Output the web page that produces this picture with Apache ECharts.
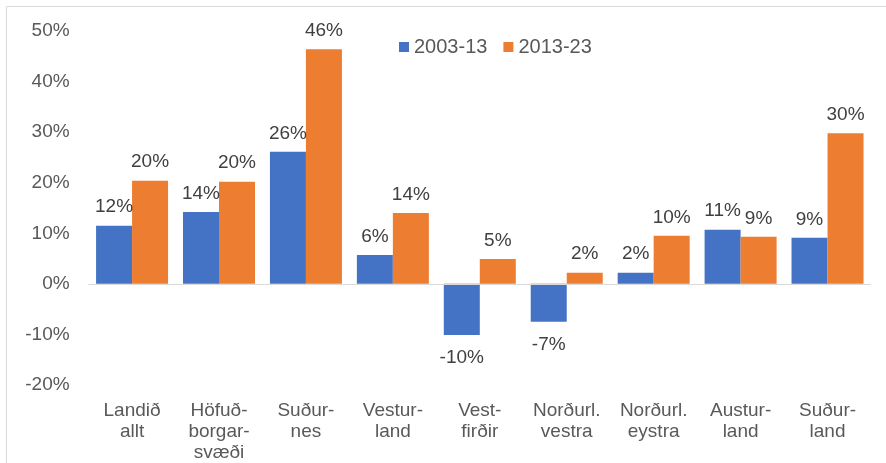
<!DOCTYPE html>
<html>
<head>
<meta charset="utf-8">
<script src="https://cdn.jsdelivr.net/npm/echarts@6/dist/echarts.min.js"></script>
<style>
  html, body { margin: 0; padding: 0; background: #fff; }
  #chart { width: 886px; height: 463px; }
</style>
</head>
<body>
<div id="chart"></div>
<script>
// gögn lesin af myndinni
const regions = [
  "Landið\nallt", "Höfuð-\nborgar-\nsvæði", "Suður-\nnes", "Vestur-\nland",
  "Vest-\nfirðir", "Norðurl.\nvestra", "Norðurl.\neystra", "Austur-\nland", "Suður-\nland"
];
const period1 = [11.5, 14.2, 26.1, 5.7, -10.1, -7.5, 2.2, 10.7, 9.1];
const period2 = [20.4, 20.2, 46.4, 14.0, 4.9, 2.2, 9.5, 9.3, 29.8];
const seriesNames = ["2003-13", "2013-23"];
const yTicks = { min: -20, max: 50, step: 10 };

const textColor = "#595959";
const font = "Liberation Sans";

// neikvæð gildi fá merkið fyrir neðan súluna
const withLabels = (arr) =>
  arr.map((v) => ({
    value: v,
    label: v < 0 ? { position: "bottom", distance: 13 } : { position: "top", distance: 9 },
  }));

const barLabel = {
  show: true,
  color: "#404040",
  fontSize: 19,
  fontFamily: font,
  formatter: (p) => Math.round(p.value) + "%",
};

const chart = echarts.init(document.getElementById("chart"));
chart.setOption({
  animation: false,
  color: ["#4472C4", "#ED7D31"],
  textStyle: { fontFamily: font },
  graphic: [
    {
      type: "rect",
      shape: { x: 6.5, y: 6.5, width: 890, height: 470 },
      style: { fill: "none", stroke: "#d9d9d9", lineWidth: 1 },
      silent: true,
    },
  ],
  legend: {
    data: seriesNames,
    left: 394,
    top: 32,
    icon: "rect",
    itemWidth: 10,
    itemHeight: 10,
    itemGap: 16,
    textStyle: { color: textColor, fontSize: 20, fontFamily: font },
  },
  grid: { left: 88.6, right: 15, top: 31, bottom: 78 },
  xAxis: {
    type: "category",
    data: regions,
    axisLine: { show: false, onZero: false },
    axisTick: { show: false },
    axisLabel: {
      color: textColor,
      fontSize: 19,
      fontFamily: font,
      lineHeight: 21,
      margin: 15,
      interval: 0,
      verticalAlign: "top",
    },
  },
  yAxis: {
    type: "value",
    min: yTicks.min,
    max: yTicks.max,
    interval: yTicks.step,
    splitLine: { show: false },
    axisLine: { show: false },
    axisTick: { show: false },
    axisLabel: {
      color: textColor,
      fontSize: 19,
      fontFamily: font,
      margin: 19,
      formatter: "{value}%",
    },
  },
  series: [
    {
      name: seriesNames[0],
      type: "bar",
      barWidth: 36,
      barGap: "0%",
      data: withLabels(period1),
      label: barLabel,
      markLine: {
        silent: true,
        symbol: "none",
        label: { show: false },
        lineStyle: { color: "#d9d9d9", type: "solid", width: 1 },
        data: [{ yAxis: 0 }],
      },
    },
    {
      name: seriesNames[1],
      type: "bar",
      barWidth: 36,
      barGap: "0%",
      data: withLabels(period2),
      label: barLabel,
    },
  ],
});
</script>
</body>
</html>
